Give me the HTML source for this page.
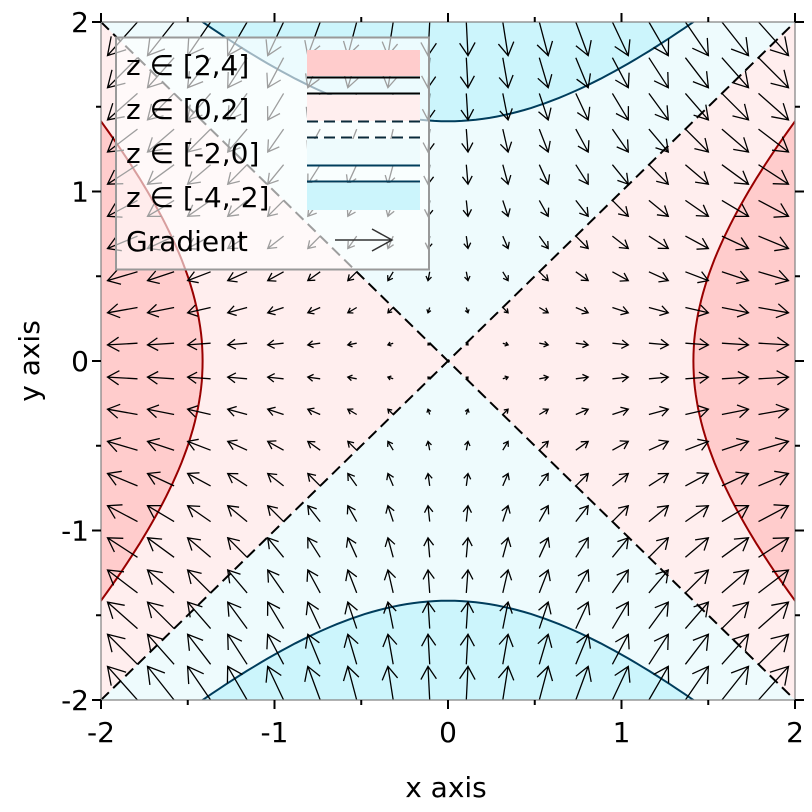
<!DOCTYPE html>
<html><head><meta charset="utf-8"><style>
html,body{margin:0;background:#fff;overflow:hidden;width:812px;height:812px}
svg{display:block;font-family:"DejaVu Sans","Liberation Sans",sans-serif}
</style></head><body>
<svg id="s" width="812" height="812" viewBox="0 0 812 812" xmlns="http://www.w3.org/2000/svg"></svg>
<script>
const s=document.getElementById('s');
const X0=101,X1=795,Y0=700,Y1=22;
const sx=x=>X0+(x+2)/4*(X1-X0), sy=y=>Y0-(y+2)/4*(Y0-Y1);
let h='<defs><clipPath id="c"><rect x="101" y="22" width="694" height="678"/></clipPath></defs>';
h+='<g clip-path="url(#c)">';
h+=`<rect x="101" y="22" width="694" height="678" fill="#eefbfd"/>`;
h+=`<polygon points="${sx(-2)},${sy(2)} ${sx(0)},${sy(0)} ${sx(-2)},${sy(-2)}" fill="#ffeeee"/>`;
h+=`<polygon points="${sx(2)},${sy(2)} ${sx(0)},${sy(0)} ${sx(2)},${sy(-2)}" fill="#ffeeee"/>`;
function hyp(sign,vert){let p=[];for(let i=0;i<=100;i++){let t=-2+4*i/100;let v=sign*Math.sqrt(2+t*t);p.push(vert?[sx(t),sy(v)]:[sx(v),sy(t)]);}return p;}
const L=hyp(-1,false),R=hyp(1,false),T=hyp(1,true),B=hyp(-1,true);
const pts=a=>a.map(p=>p[0].toFixed(1)+','+p[1].toFixed(1)).join(' ');
h+=`<polygon points="${sx(-3)},${sy(2)} ${pts(L)} ${sx(-3)},${sy(-2)}" fill="#ffcccc"/>`;
h+=`<polygon points="${sx(3)},${sy(2)} ${pts(R)} ${sx(3)},${sy(-2)}" fill="#ffcccc"/>`;
h+=`<polygon points="${sx(-2)},${sy(3)} ${pts(T)} ${sx(2)},${sy(3)}" fill="#ccf5fc"/>`;
h+=`<polygon points="${sx(-2)},${sy(-3)} ${pts(B)} ${sx(2)},${sy(-3)}" fill="#ccf5fc"/>`;
h+=`<polyline points="${pts(L)}" fill="none" stroke="#990000" stroke-width="2"/>`;
h+=`<polyline points="${pts(R)}" fill="none" stroke="#990000" stroke-width="2"/>`;
h+=`<polyline points="${pts(T)}" fill="none" stroke="#003d5c" stroke-width="2"/>`;
h+=`<polyline points="${pts(B)}" fill="none" stroke="#003d5c" stroke-width="2"/>`;
h+=`<line x1="${sx(-2)}" y1="${sy(-2)}" x2="${sx(2)}" y2="${sy(2)}" stroke="#000" stroke-width="2" stroke-dasharray="11,6"/>`;
h+=`<line x1="${sx(-2)}" y1="${sy(2)}" x2="${sx(2)}" y2="${sy(-2)}" stroke="#000" stroke-width="2" stroke-dasharray="11,6"/>`;
function arrow(x1,y1,x2,y2,col,w){let dx=x2-x1,dy=y2-y1,l=Math.hypot(dx,dy);if(l<0.5)return '';let ux=dx/l,uy=dy/l;let hl=Math.min(20,0.35*l+1),hw=Math.min(11,0.2*l+1);
let bx=x2-ux*hl,by=y2-uy*hl;return `<path d="M${x1.toFixed(1)},${y1.toFixed(1)}L${x2.toFixed(1)},${y2.toFixed(1)}M${(bx-uy*hw).toFixed(1)},${(by+ux*hw).toFixed(1)}L${x2.toFixed(1)},${y2.toFixed(1)}L${(bx+uy*hw).toFixed(1)},${(by-ux*hw).toFixed(1)}" fill="none" stroke="${col}" stroke-width="${w}"/>`;}
const K=8.4;
for(let i=0;i<20;i++)for(let j=0;j<20;j++){let x=-2+4*i/19,y=-2+4*j/19;let gx=2*x,gy=-2*y;let px=sx(x),py=sy(y);h+=arrow(px,py,px+gx*K,py-gy*K,'#000',1.3);}
h+='</g>';
h+=`<rect x="116" y="37.5" width="313" height="232" fill="rgba(255,255,255,0.62)" stroke="#999" stroke-width="2"/>`;
h+=`<rect x="307" y="50" width="113" height="26" fill="#ffcccc"/><line x1="307" x2="420" y1="77.5" y2="77.5" stroke="#000" stroke-width="2"/>`;
h+=`<line x1="307" x2="420" y1="93.5" y2="93.5" stroke="#000" stroke-width="2"/><rect x="307" y="95" width="113" height="26" fill="#ffeeee"/><line x1="307" x2="420" y1="121.5" y2="121.5" stroke="#0a2a3a" stroke-width="2" stroke-dasharray="11,6"/>`;
h+=`<line x1="307" x2="420" y1="137.5" y2="137.5" stroke="#0a2a3a" stroke-width="2" stroke-dasharray="11,6"/><rect x="307" y="139" width="113" height="26" fill="#eefbfd"/><line x1="307" x2="420" y1="165.5" y2="165.5" stroke="#003d5c" stroke-width="2"/>`;
h+=`<line x1="307" x2="420" y1="181.5" y2="181.5" stroke="#003d5c" stroke-width="2"/><rect x="307" y="183" width="113" height="27" fill="#ccf5fc"/>`;
h+=arrow(335,240,392,240,'#333',1.5);
const lab=['z ∈ [2,4]','z ∈ [0,2]','z ∈ [-2,0]','z ∈ [-4,-2]','Gradient'];
lab.forEach((t,k)=>h+=`<text x="126" y="${75+k*44}" font-size="28">${t}</text>`);
h+=`<rect x="101" y="22" width="694" height="678" fill="none" stroke="#888" stroke-width="1.3"/>`;
for(let v=-2;v<=2;v+=0.5){let maj=Number.isInteger(v);let l=maj?9:5;let px=sx(v),py=sy(v);
h+=`<line x1="${px}" x2="${px}" y1="${Y0}" y2="${Y0+l}" stroke="#000" stroke-width="2"/><line x1="${px}" x2="${px}" y1="${Y1}" y2="${Y1-l}" stroke="#000" stroke-width="2"/>`;
h+=`<line y1="${py}" y2="${py}" x1="${X0}" x2="${X0-l}" stroke="#000" stroke-width="2"/><line y1="${py}" y2="${py}" x1="${X1}" x2="${X1+l}" stroke="#000" stroke-width="2"/>`;
if(maj){h+=`<text x="${px}" y="742" font-size="28" text-anchor="middle">${v}</text>`;h+=`<text x="89" y="${py+10}" font-size="28" text-anchor="end">${v}</text>`;}}
h+=`<text x="446" y="797" font-size="28" text-anchor="middle">x axis</text>`;
h+=`<text transform="translate(39,361) rotate(-90)" font-size="28" text-anchor="middle">y axis</text>`;
s.innerHTML=h;
</script>
</body></html>
